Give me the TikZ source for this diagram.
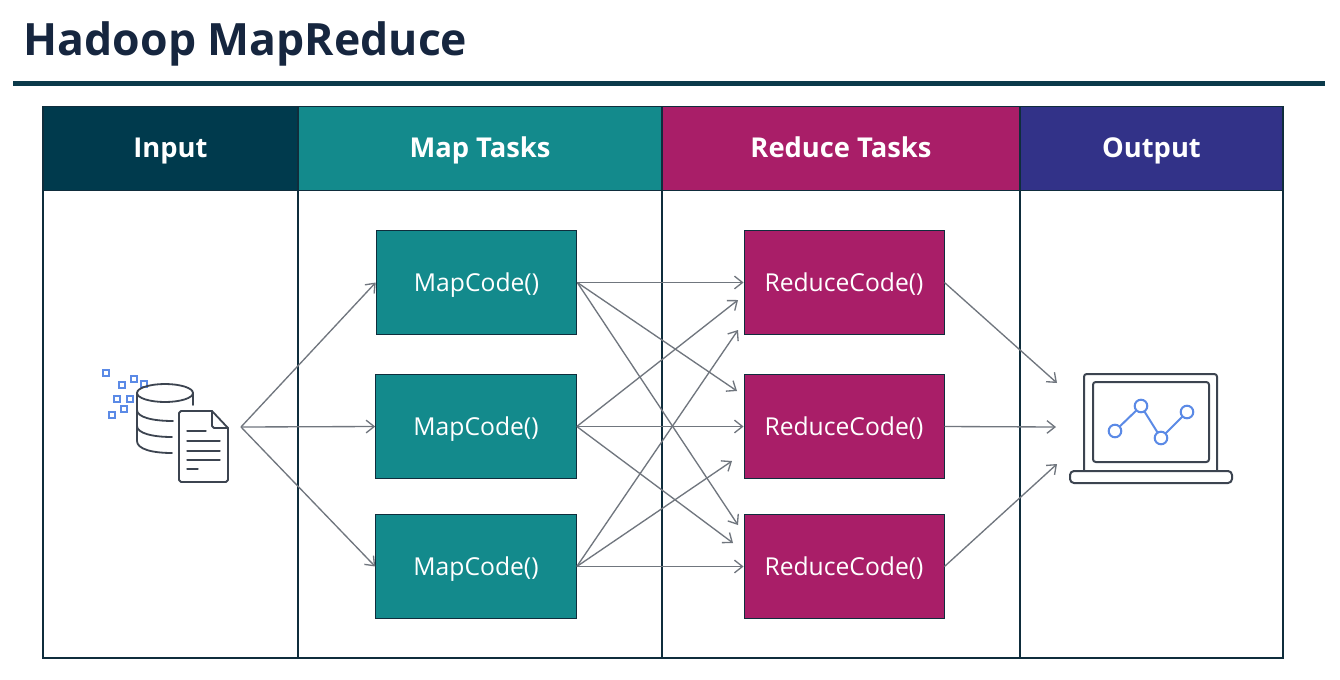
\documentclass[tikz,border=0pt]{standalone}
\usepackage{fontspec}
\setmainfont{Open Sans}
\usetikzlibrary{arrows.meta}
\definecolor{navy}{HTML}{003A4D}
\definecolor{tealc}{HTML}{138A8C}
\definecolor{magc}{HTML}{A91E68}
\definecolor{indc}{HTML}{323288}
\definecolor{titlec}{HTML}{16263F}
\definecolor{rulec}{HTML}{0B3A4A}
\definecolor{edgec}{HTML}{0F2D3C}
\definecolor{arrc}{HTML}{70767E}
\definecolor{iconc}{HTML}{3C4450}
\definecolor{bluec}{HTML}{5B8AE6}
\tikzset{
  px/.style={x=0.75pt,y=-0.75pt},
  head/.style={draw=edgec,line width=0.8pt,text=white,font=\bfseries\fontsize{20.5}{24}\selectfont,inner sep=0,text height=17.2pt,text depth=3pt,minimum height=62.5pt,anchor=center},
  col/.style={draw=edgec,line width=0.9pt},
  mapbox/.style={draw=edgec,line width=0.7pt,fill=tealc,text=white,font=\fontsize{18.5}{22}\selectfont,text height=17.2pt,text depth=3pt,minimum width=150.5pt,minimum height=77.5pt,inner sep=0},
  redbox/.style={draw=edgec,line width=0.7pt,fill=magc,text=white,font=\fontsize{18.5}{22}\selectfont,text height=17.2pt,text depth=3pt,minimum width=150pt,minimum height=77.5pt,inner sep=0},
  flow/.style={draw=arrc,line width=1pt,-{Straight Barb[length=6pt,width=9.5pt,line width=1pt]}},
  icon/.style={draw=iconc,line width=1.35pt,line cap=round,line join=round},
  iconb/.style={draw=bluec,line width=1.5pt},
}
\begin{document}
\begin{tikzpicture}[px]
\useasboundingbox (0,0) rectangle (1340,679);
\fill[white] (0,0) rectangle (1340,679);
% title
\node[anchor=center,text=titlec,font=\bfseries\fontsize{33.4}{40}\selectfont,inner sep=0,text height=28pt,text depth=4pt] (title) at (245.5,39) {Hadoop MapReduce};
\draw[rulec,line width=3.2pt] (13,83.5) -- (1325,83.5);
% table
\draw[col] (43,107) rectangle (1283,658);
\draw[col] (298,190) -- (298,658);
\draw[col,line width=1.3pt] (662,190) -- (662,658);
\draw[col] (1020,190) -- (1020,658);
% headers
\node[head,fill=navy,minimum width=191.25pt] (hinput) at (170.5,148.5) {Input};
\node[head,fill=tealc,minimum width=273pt] (hmap) at (480,148.5) {Map Tasks};
\node[head,fill=magc,minimum width=268.5pt] (hred) at (841,148.5) {Reduce Tasks};
\node[head,fill=indc,minimum width=197.25pt] (hout) at (1151.5,148.5) {Output};
% boxes
\node[mapbox] (m1) at (476.5,282.5) {MapCode()};
\node[mapbox] (m2) at (476,426.5) {MapCode()};
\node[mapbox] (m3) at (476,566.5) {MapCode()};
\node[redbox] (r1) at (844,282.5) {ReduceCode()};
\node[redbox] (r2) at (844,426.5) {ReduceCode()};
\node[redbox] (r3) at (844,566.5) {ReduceCode()};
% free ends
\coordinate (src) at (241,427);
\coordinate (o1) at (1057,383);
\coordinate (o2) at (1056,427);
\coordinate (o3) at (1057,464);
\coordinate (e12) at (738,300);
\coordinate (e13) at (738,330);
\coordinate (e21) at (737,391);
\coordinate (e23) at (732,461);
\coordinate (e31) at (738,525);
\coordinate (e32) at (733,543);
% connectors
\draw[flow] (src) -- (m1.west);
\draw[flow] (src) -- (m2.west);
\draw[flow] (src) -- (m3.west);
\draw[flow] (m1.east) -- (r1.west);
\draw[flow] (m1.east) -- (e21);
\draw[flow] (m1.east) -- (e31);
\draw[flow] (m2.east) -- (e12);
\draw[flow] (m2.east) -- (r2.west);
\draw[flow] (m2.east) -- (e32);
\draw[flow] (m3.east) -- (e13);
\draw[flow] (m3.east) -- (e23);
\draw[flow] (m3.east) -- (r3.west);
\draw[flow] (r1.east) -- (o1);
\draw[flow] (r2.east) -- (o2);
\draw[flow] (r3.east) -- (o3);
% database icon
\foreach \x/\y in {106/373,122/385,134/379,144/384,117/399,130/399,124/409,112/415}
  \draw[iconb] (\x-2.7,\y-2.7) rectangle (\x+2.7,\y+2.7);
\draw[icon] (165,393) ellipse [x radius=28,y radius=9];
\draw[icon] (193,393) -- (193,405);
\draw[icon] (137,393) -- (137,441) .. controls (137,449) and (152,453) .. (172,453);
\draw[icon] (137,410) .. controls (137,417) and (152,421) .. (173,421);
\draw[icon] (137,426) .. controls (137,433) and (152,437) .. (172,437);
\draw[icon,fill=white] (181,411) -- (212,411) -- (228,428) -- (228,480) -- (226,482) -- (181,482) -- (179,480) -- (179,413) -- cycle;
\draw[icon] (212,411) -- (212,426) -- (214,428) -- (228,428);
\foreach \y/\e in {431/206,441/220,451/220,460/220,469/198}
  \draw[icon,line width=1pt] (187,\y) -- (\e,\y);
% laptop icon
\draw[icon,line width=1.5pt,rounded corners=2pt] (1084,470) -- (1084,374) -- (1217,374) -- (1217,470);
\draw[icon,line width=1.5pt,rounded corners=2pt] (1093,382) rectangle (1209,462);
\draw[icon,line width=1.5pt,rounded corners=3pt] (1070,471) -- (1232,471) -- (1232,483) -- (1070,483) -- cycle;
\draw[iconb] (1115,431) -- (1141,406) -- (1161,438) -- (1187,412);
\foreach \x/\y in {1115/431,1141/406,1161/438,1187/412}
  \draw[iconb,fill=white] (\x,\y) circle [radius=6.3];
\end{tikzpicture}
\end{document}
